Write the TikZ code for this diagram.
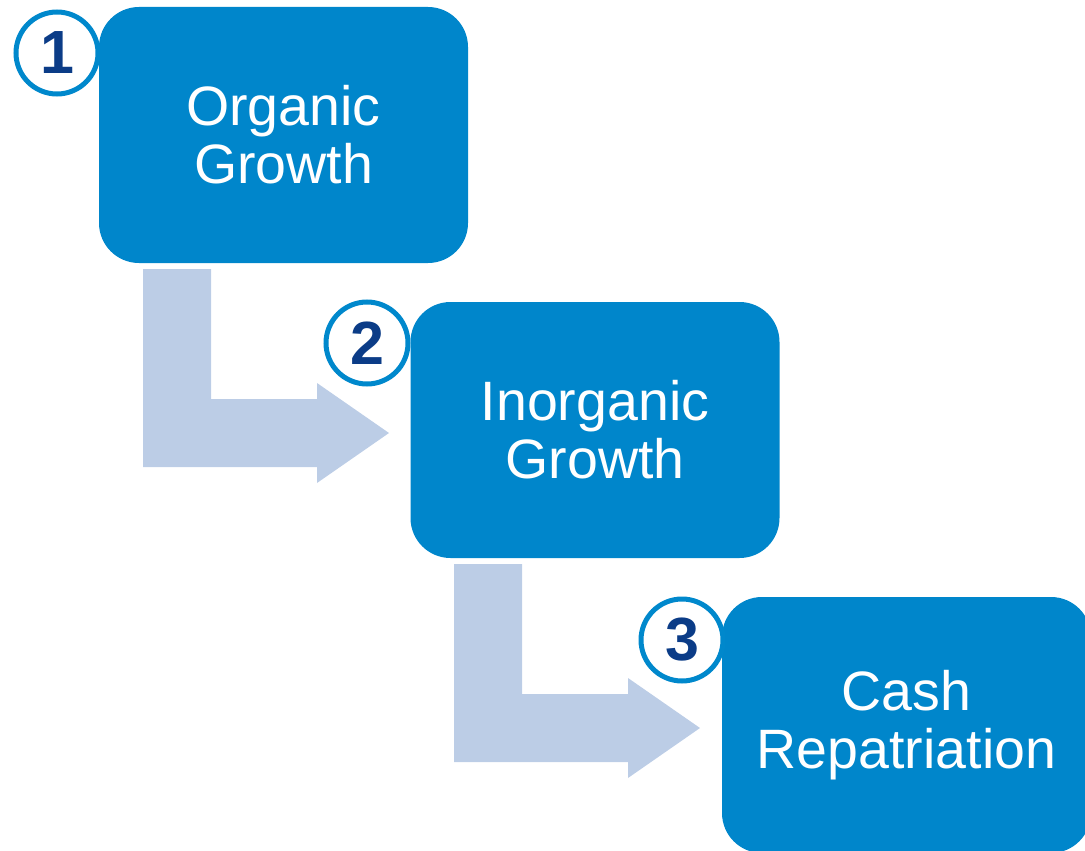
\documentclass[tikz,border=0pt]{standalone}
\usepackage{fontspec}
\setmainfont{Liberation Sans}
\definecolor{boxblue}{RGB}{0,134,203}
\definecolor{ringblue}{RGB}{0,136,204}
\definecolor{numnavy}{RGB}{11,60,135}
\definecolor{arrowfill}{RGB}{188,205,230}
\tikzset{
  stepbox/.style={fill=boxblue, draw=none, rounded corners=40pt,
    minimum width=369pt, minimum height=256pt, inner sep=0pt,
    text=white, align=center, font=\fontsize{55.5}{58}\selectfont},
  numring/.style={circle, fill=white, draw=ringblue, line width=5pt,
    minimum size=82pt, inner sep=0pt, text=numnavy,
    font=\fontsize{61}{61}\selectfont\bfseries},
  bentarrow/.style={fill=arrowfill, draw=none}
}
\begin{document}
\begin{tikzpicture}[x=1pt, y=-1pt]
\useasboundingbox (0,0) rectangle (1085,851);
\clip (0,0) rectangle (1085,851);

% bent arrows leading from one step down to the next
\foreach \dx/\dy in {0/0, 311/295}{
  \begin{scope}[shift={(\dx,\dy)}]
    \fill[bentarrow] (143,269) -- (211,269) -- (211,399) -- (317,399)
      -- (317,383) -- (389,433) -- (317,483) -- (317,467) -- (143,467) -- cycle;
  \end{scope}
}

% step boxes
\node[stepbox] (b1) at (283.5,135) {Organic\\Growth};
\node[stepbox] (b2) at (595,430) {Inorganic\\Growth};
\node[stepbox] (b3) at (906.5,725) {Cash\\Repatriation};

% numbered rings
\node[numring] (n1) at (57,53) {1};
\node[numring] (n2) at (367,343) {2};
\node[numring] (n3) at (682,640) {3};
\end{tikzpicture}
\end{document}
